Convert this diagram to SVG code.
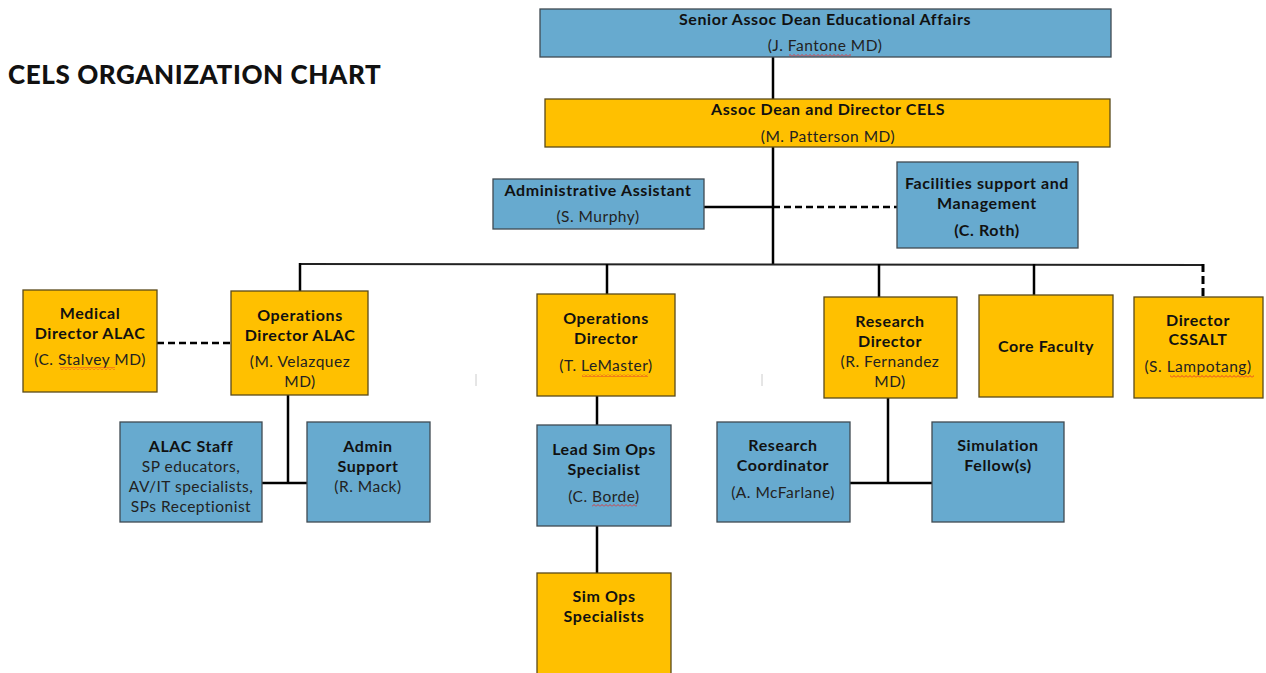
<svg xmlns="http://www.w3.org/2000/svg" width="1266" height="673" viewBox="0 0 1266 673">
<style>
.bl{fill:#67AACF;stroke:#3f4a52;stroke-width:1.3}
.yl{fill:#FFC000;stroke:#5a4a1a;stroke-width:1.3}
text{font-family:Lato,"Liberation Sans",sans-serif;font-size:16px;fill:#111;text-anchor:middle}
.b{font-weight:bold;letter-spacing:0.6px}
.n{font-weight:normal;fill:#222;font-size:15.5px;letter-spacing:0.5px}
.c{stroke:#000;stroke-width:2.5;fill:none}
.d{stroke:#000;stroke-width:2.5;fill:none;stroke-dasharray:7,4}
.sq{fill:url(#wave)}
</style>
<defs>
<pattern id="wave" width="4" height="3" patternUnits="userSpaceOnUse">
<polyline points="0,2.5 2,0.5 4,2.5" fill="none" stroke="#e03030" stroke-width="0.9"/>
</pattern>
</defs>
<rect width="1266" height="673" fill="#fff"/>
<text x="8" y="84" style="font-size:26px;font-weight:900;letter-spacing:0.6px;text-anchor:start;fill:#111">CELS ORGANIZATION CHART</text>

<g id="connectors">
<line class="c" x1="773" y1="57" x2="773" y2="99"/>
<line class="c" x1="773" y1="147" x2="773" y2="264"/>
<line class="c" x1="704" y1="207" x2="773" y2="207"/>
<line class="d" x1="773" y1="207" x2="897" y2="207"/>
<line x1="299" y1="264" x2="1203" y2="265" stroke="#222" stroke-width="2"/>
<line class="c" x1="300" y1="263" x2="300" y2="291"/>
<line class="c" x1="607" y1="264" x2="607" y2="294"/>
<line class="c" x1="879" y1="264" x2="879" y2="297"/>
<line class="c" x1="1034" y1="264" x2="1034" y2="295"/>
<line x1="1203" y1="264" x2="1203" y2="298" stroke="#000" stroke-width="3" stroke-dasharray="8,4"/>
<line class="d" x1="157" y1="343" x2="231" y2="343"/>
<line class="c" x1="288" y1="395" x2="288" y2="483"/>
<line class="c" x1="262" y1="483" x2="307" y2="483"/>
<line class="c" x1="597" y1="396" x2="597" y2="425"/>
<line class="c" x1="597" y1="526" x2="597" y2="573"/>
<line class="c" x1="888" y1="398" x2="888" y2="484"/>
<line class="c" x1="850" y1="483" x2="932" y2="483"/>
<line x1="476" y1="374" x2="476" y2="386" stroke="#ccc" stroke-width="1"/>
<line x1="762" y1="374" x2="762" y2="386" stroke="#ccc" stroke-width="1"/>
</g>

<g id="senior">
<rect class="bl" x="540" y="9" width="571" height="48"/>
<text class="b" x="825" y="25">Senior Assoc Dean Educational Affairs</text>
<text class="n" x="825" y="51">(J. Fantone MD)</text>
<rect class="sq" x="789" y="54" width="62" height="3"/>
</g>

<g id="assocdean">
<rect class="yl" x="545" y="99" width="565" height="48"/>
<text class="b" x="828" y="115">Assoc Dean and Director CELS</text>
<text class="n" x="828" y="142">(M. Patterson MD)</text>
</g>

<g id="adminassistant">
<rect class="bl" x="493" y="179" width="211" height="50"/>
<text class="b" x="598" y="196">Administrative Assistant</text>
<text class="n" x="598" y="222">(S. Murphy)</text>
</g>

<g id="facilities">
<rect class="bl" x="897" y="162" width="181" height="86"/>
<text class="b" x="987" y="189">Facilities support and</text>
<text class="b" x="987" y="209">Management</text>
<text class="b" x="987" y="236">(C. Roth)</text>
</g>

<g id="meddirector">
<rect class="yl" x="23" y="290" width="134" height="102"/>
<text class="b" x="90" y="319">Medical</text>
<text class="b" x="90" y="339">Director ALAC</text>
<text class="n" x="90" y="365">(C. Stalvey MD)</text>
<rect class="sq" x="60" y="367" width="55" height="3"/>
</g>

<g id="opsdirectoralac">
<rect class="yl" x="231" y="291" width="137" height="104"/>
<text class="b" x="300" y="321">Operations</text>
<text class="b" x="300" y="341">Director ALAC</text>
<text class="n" x="300" y="367">(M. Velazquez</text>
<text class="n" x="300" y="387">MD)</text>
</g>

<g id="alacstaff">
<rect class="bl" x="120" y="422" width="142" height="100"/>
<text class="b" x="191" y="452">ALAC Staff</text>
<text class="n" x="191" y="472">SP educators,</text>
<text class="n" x="191" y="492">AV/IT specialists,</text>
<text class="n" x="191" y="512">SPs Receptionist</text>
</g>

<g id="adminsupport">
<rect class="bl" x="307" y="422" width="123" height="100"/>
<text class="b" x="368" y="452">Admin</text>
<text class="b" x="368" y="472">Support</text>
<text class="n" x="368" y="492">(R. Mack)</text>
</g>

<g id="opsdirector">
<rect class="yl" x="537" y="294" width="138" height="102"/>
<text class="b" x="606" y="324">Operations</text>
<text class="b" x="606" y="344">Director</text>
<text class="n" x="606" y="371">(T. LeMaster)</text>
<rect class="sq" x="582" y="374" width="66" height="3"/>
</g>

<g id="leadsimops">
<rect class="bl" x="537" y="425" width="134" height="101"/>
<text class="b" x="604" y="455">Lead Sim Ops</text>
<text class="b" x="604" y="475">Specialist</text>
<text class="n" x="604" y="502">(C. Borde)</text>
<rect class="sq" x="592" y="504" width="45" height="3"/>
</g>

<g id="simopsspecialists">
<rect class="yl" x="537" y="573" width="134" height="102"/>
<text class="b" x="604" y="602">Sim Ops</text>
<text class="b" x="604" y="622">Specialists</text>
</g>

<g id="researchdirector">
<rect class="yl" x="824" y="297" width="133" height="101"/>
<text class="b" x="890" y="327">Research</text>
<text class="b" x="890" y="347">Director</text>
<text class="n" x="890" y="367">(R. Fernandez</text>
<text class="n" x="890" y="387">MD)</text>
</g>

<g id="researchcoordinator">
<rect class="bl" x="717" y="422" width="133" height="100"/>
<text class="b" x="783" y="451">Research</text>
<text class="b" x="783" y="471">Coordinator</text>
<text class="n" x="783" y="498">(A. McFarlane)</text>
</g>

<g id="simfellow">
<rect class="bl" x="932" y="422" width="132" height="100"/>
<text class="b" x="998" y="451">Simulation</text>
<text class="b" x="998" y="471">Fellow(s)</text>
</g>

<g id="corefaculty">
<rect class="yl" x="979" y="295" width="134" height="102"/>
<text class="b" x="1046" y="352">Core Faculty</text>
</g>

<g id="cssalt">
<rect class="yl" x="1134" y="297" width="129" height="101"/>
<text class="b" x="1198" y="326">Director</text>
<text class="b" x="1198" y="345">CSSALT</text>
<text class="n" x="1198" y="372">(S. Lampotang)</text>
<rect class="sq" x="1170" y="375" width="84" height="3"/>
</g>
</svg>
